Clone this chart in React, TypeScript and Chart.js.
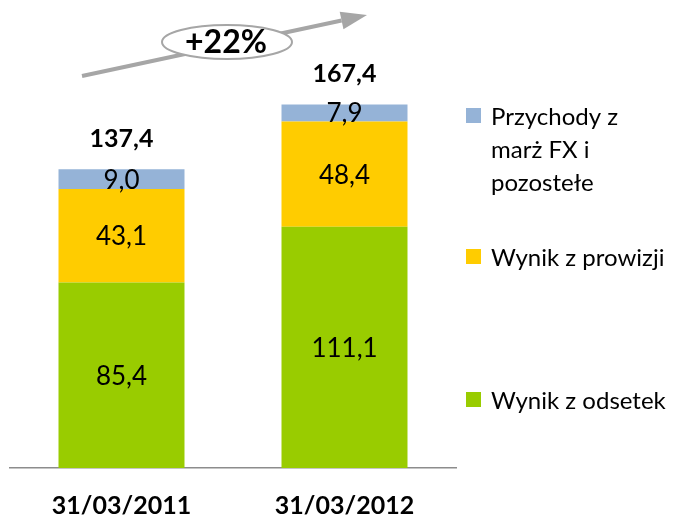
import React, { useEffect, useRef } from "react";
import { Chart, registerables } from "chart.js";

Chart.register(...registerables);

const categories = ["31/03/2011", "31/03/2012"];
const seriesNames = ["Wynik z odsetek", "Wynik z prowizji", "Przychody z marż FX i pozostełe"];
const odsetek = [85.4, 111.1];
const prowizji = [43.1, 48.4];
const fxPozostale = [9.0, 7.9];
const totals = [137.4, 167.4];
const growthLabel = "+22%";
const legendLines = [["Przychody z", "marż FX i", "pozostełe"], ["Wynik z prowizji"], ["Wynik z odsetek"]];

const COLORS = ["#99CC00", "#FFCC00", "#95B3D7"];
const FONT = "Lato, 'Open Sans', sans-serif";

const fmt = (v: number) => v.toFixed(1).replace(".", ",");

const overlayPlugin = {
  id: "overlay",
  afterDatasetsDraw(chart: any) {
    const ctx = chart.ctx;
    ctx.save();
    ctx.textAlign = "center";
    ctx.textBaseline = "middle";
    ctx.fillStyle = "#000";
    ctx.font = `26px ${FONT}`;
    chart.data.datasets.forEach((ds: any, di: number) => {
      const meta = chart.getDatasetMeta(di);
      meta.data.forEach((bar: any, i: number) => {
        const y = (bar.y + bar.base) / 2;
        ctx.fillText(fmt(ds.data[i]), bar.x, y + 1);
      });
    });
    ctx.font = `bold 25px ${FONT}`;
    const top = chart.getDatasetMeta(chart.data.datasets.length - 1);
    top.data.forEach((bar: any, i: number) => {
      ctx.fillText(fmt(totals[i]), bar.x, bar.y - 30);
    });

    // arrow
    ctx.strokeStyle = "#A6A6A6";
    ctx.fillStyle = "#A6A6A6";
    ctx.lineWidth = 4;
    const x0 = 82, y0 = 76, x1 = 367, y1 = 15;
    const ang = Math.atan2(y1 - y0, x1 - x0);
    const hl = 26, hw = 9;
    const bx = x1 - hl * Math.cos(ang), by = y1 - hl * Math.sin(ang);
    ctx.beginPath();
    ctx.moveTo(x0, y0);
    ctx.lineTo(bx, by);
    ctx.stroke();
    ctx.beginPath();
    ctx.moveTo(x1, y1);
    ctx.lineTo(bx + hw * Math.sin(ang), by - hw * Math.cos(ang));
    ctx.lineTo(bx - hw * Math.sin(ang), by + hw * Math.cos(ang));
    ctx.closePath();
    ctx.fill();

    // ellipse
    ctx.beginPath();
    ctx.ellipse(227, 42, 65, 17, 0, 0, Math.PI * 2);
    ctx.fillStyle = "#fff";
    ctx.fill();
    ctx.lineWidth = 2;
    ctx.strokeStyle = "#A6A6A6";
    ctx.stroke();
    ctx.fillStyle = "#000";
    ctx.font = `bold 32px ${FONT}`;
    ctx.fillText(growthLabel, 226, 43);

    // legend
    const legendItems = [
      { color: COLORS[2], lines: legendLines[0], y: 116 },
      { color: COLORS[1], lines: legendLines[1], y: 257 },
      { color: COLORS[0], lines: legendLines[2], y: 400 },
    ];
    ctx.textAlign = "left";
    ctx.font = `24px ${FONT}`;
    legendItems.forEach((it) => {
      ctx.fillStyle = it.color;
      ctx.fillRect(466, it.y - 8, 15, 15);
      ctx.fillStyle = "#000";
      it.lines.forEach((ln, k) => {
        ctx.fillText(ln, 491, it.y + 1 + k * 33);
      });
    });
    ctx.restore();
  },
};

export default function App() {
  const ref = useRef<HTMLCanvasElement>(null);
  useEffect(() => {
    if (!ref.current) return;
    const chart = new Chart(ref.current, {
      type: "bar",
      data: {
        labels: categories,
        datasets: [
          { label: seriesNames[0], data: odsetek, backgroundColor: COLORS[0] },
          { label: seriesNames[1], data: prowizji, backgroundColor: COLORS[1] },
          { label: seriesNames[2], data: fxPozostale, backgroundColor: COLORS[2] },
        ],
      },
      options: {
        animation: false,
        responsive: false,
        maintainAspectRatio: false,
        datasets: { bar: { categoryPercentage: 1, barPercentage: 0.565 } },
        layout: { padding: { left: 10, right: 221, top: 1, bottom: -25 } },
        plugins: { legend: { display: false }, tooltip: { enabled: false } },
        scales: {
          x: {
            stacked: true,
            grid: { display: false, drawTicks: false },
            border: { display: true, color: "#8C8C8C", width: 1.5 },
            ticks: { color: "#000", font: { family: FONT, size: 25, weight: "bold" }, padding: 23 },
          },
          y: { stacked: true, display: false, min: 0, max: 215 },
        },
      },
      plugins: [overlayPlugin],
    });
    return () => chart.destroy();
  }, []);
  return (
    <div style={{ position: "absolute", left: 0, top: 0, width: 677, height: 519, background: "#fff" }}>
      <canvas ref={ref} width={677} height={519} />
    </div>
  );
}
